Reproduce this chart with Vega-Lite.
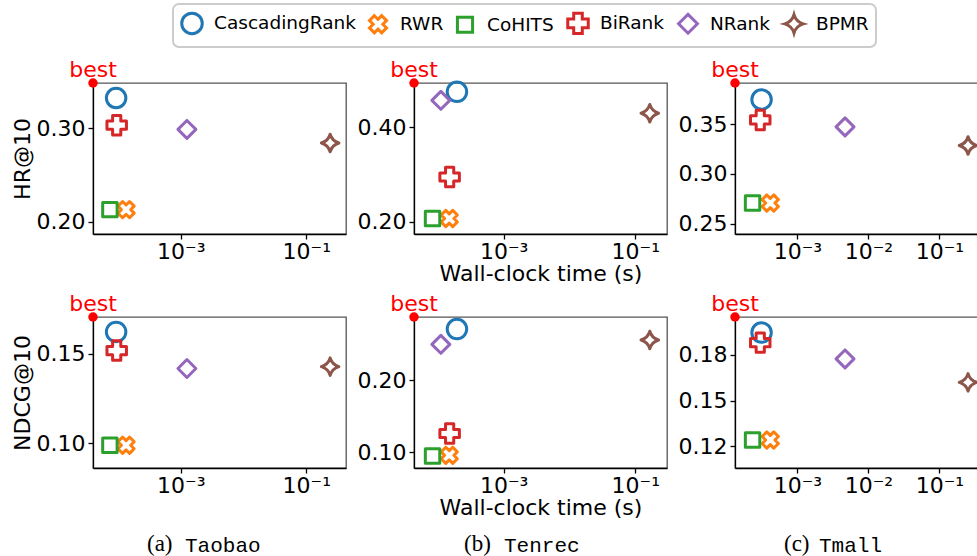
{
  "$schema": "https://vega.github.io/schema/vega-lite/v6.json",
  "padding": {"left": 10, "top": 3, "right": 0, "bottom": 0},
  "columns": 3,
  "bounds": "flush",
  "spacing": {"row": 83, "column": 68},
  "resolve": {"scale": {"x": "independent", "y": "independent", "color": "shared", "shape": "shared"}, "axis": {"x": "independent", "y": "independent"}, "legend": {"color": "shared", "shape": "shared"}},
  "datasets": {
    "scores": [
      {"dataset": "Taobao", "metric": "HR@10", "method": "CascadingRank", "time": 0.000093, "value": 0.332},
      {"dataset": "Taobao", "metric": "HR@10", "method": "RWR", "time": 0.000134, "value": 0.213},
      {"dataset": "Taobao", "metric": "HR@10", "method": "CoHITS", "time": 0.000074, "value": 0.213},
      {"dataset": "Taobao", "metric": "HR@10", "method": "BiRank", "time": 0.000095, "value": 0.303},
      {"dataset": "Taobao", "metric": "HR@10", "method": "NRank", "time": 0.00125, "value": 0.2985},
      {"dataset": "Taobao", "metric": "HR@10", "method": "BPMR", "time": 0.24, "value": 0.284},
      {"dataset": "Taobao", "metric": "NDCG@10", "method": "CascadingRank", "time": 0.000093, "value": 0.1621},
      {"dataset": "Taobao", "metric": "NDCG@10", "method": "RWR", "time": 0.000134, "value": 0.0989},
      {"dataset": "Taobao", "metric": "NDCG@10", "method": "CoHITS", "time": 0.000074, "value": 0.0989},
      {"dataset": "Taobao", "metric": "NDCG@10", "method": "BiRank", "time": 0.000095, "value": 0.1517},
      {"dataset": "Taobao", "metric": "NDCG@10", "method": "NRank", "time": 0.00125, "value": 0.1417},
      {"dataset": "Taobao", "metric": "NDCG@10", "method": "BPMR", "time": 0.24, "value": 0.1427},
      {"dataset": "Tenrec", "metric": "HR@10", "method": "CascadingRank", "time": 0.000195, "value": 0.475},
      {"dataset": "Tenrec", "metric": "HR@10", "method": "RWR", "time": 0.000149, "value": 0.2074},
      {"dataset": "Tenrec", "metric": "HR@10", "method": "CoHITS", "time": 0.000083, "value": 0.2074},
      {"dataset": "Tenrec", "metric": "HR@10", "method": "BiRank", "time": 0.000151, "value": 0.295},
      {"dataset": "Tenrec", "metric": "HR@10", "method": "NRank", "time": 0.000111, "value": 0.457},
      {"dataset": "Tenrec", "metric": "HR@10", "method": "BPMR", "time": 0.166, "value": 0.4298},
      {"dataset": "Tenrec", "metric": "NDCG@10", "method": "CascadingRank", "time": 0.000195, "value": 0.2708},
      {"dataset": "Tenrec", "metric": "NDCG@10", "method": "RWR", "time": 0.000149, "value": 0.0958},
      {"dataset": "Tenrec", "metric": "NDCG@10", "method": "CoHITS", "time": 0.000083, "value": 0.0949},
      {"dataset": "Tenrec", "metric": "NDCG@10", "method": "BiRank", "time": 0.000151, "value": 0.126},
      {"dataset": "Tenrec", "metric": "NDCG@10", "method": "NRank", "time": 0.000111, "value": 0.2496},
      {"dataset": "Tenrec", "metric": "NDCG@10", "method": "BPMR", "time": 0.166, "value": 0.2556},
      {"dataset": "Tmall", "metric": "HR@10", "method": "CascadingRank", "time": 0.000312, "value": 0.3748},
      {"dataset": "Tmall", "metric": "HR@10", "method": "RWR", "time": 0.000414, "value": 0.2708},
      {"dataset": "Tmall", "metric": "HR@10", "method": "CoHITS", "time": 0.000233, "value": 0.2708},
      {"dataset": "Tmall", "metric": "HR@10", "method": "BiRank", "time": 0.000299, "value": 0.3543},
      {"dataset": "Tmall", "metric": "HR@10", "method": "NRank", "time": 0.00468, "value": 0.3473},
      {"dataset": "Tmall", "metric": "HR@10", "method": "BPMR", "time": 0.253, "value": 0.3286},
      {"dataset": "Tmall", "metric": "NDCG@10", "method": "CascadingRank", "time": 0.000312, "value": 0.1872},
      {"dataset": "Tmall", "metric": "NDCG@10", "method": "RWR", "time": 0.000414, "value": 0.1285},
      {"dataset": "Tmall", "metric": "NDCG@10", "method": "CoHITS", "time": 0.000233, "value": 0.1285},
      {"dataset": "Tmall", "metric": "NDCG@10", "method": "BiRank", "time": 0.000299, "value": 0.1817},
      {"dataset": "Tmall", "metric": "NDCG@10", "method": "NRank", "time": 0.00468, "value": 0.1728},
      {"dataset": "Tmall", "metric": "NDCG@10", "method": "BPMR", "time": 0.253, "value": 0.160}
    ],
    "best": [
      {"dataset": "Taobao", "metric": "HR@10", "time": 0.0000398, "value": 0.348},
      {"dataset": "Taobao", "metric": "NDCG@10", "time": 0.0000398, "value": 0.1704},
      {"dataset": "Tenrec", "metric": "HR@10", "time": 0.0000434, "value": 0.4936},
      {"dataset": "Tenrec", "metric": "NDCG@10", "time": 0.0000434, "value": 0.2875},
      {"dataset": "Tmall", "metric": "HR@10", "time": 0.0001318, "value": 0.3914},
      {"dataset": "Tmall", "metric": "NDCG@10", "time": 0.0001318, "value": 0.1957}
    ]
  },
  "concat": [
    {
      "width": 253, "height": 151,
      "layer": [
        {"data": {"name": "scores"}, "transform": [{"filter": "datum.dataset == 'Taobao' && datum.metric == 'HR@10'"}],
         "mark": {"type": "point", "filled": false, "strokeWidth": 3, "size": 380, "opacity": 1, "strokeJoin": "round"},
         "encoding": {
           "x": {"field": "time", "type": "quantitative", "scale": {"type": "log", "domain": [0.0000398, 0.4295], "nice": false}, "axis": {"values": [0.001, 0.1], "labelExpr": "datum.value < 0.0055 ? '10⁻³' : datum.value < 0.055 ? '10⁻²' : '10⁻¹'", "title": null, "labelPadding": 2, "minExtent": 29, "maxExtent": 29, "titlePadding": 0}},
           "y": {"field": "value", "type": "quantitative", "scale": {"domain": [0.187, 0.348], "zero": false, "nice": false}, "axis": {"values": [0.2, 0.3], "format": ".2f", "title": "HR@10", "labelPadding": 3, "minExtent": 58, "maxExtent": 58, "titlePadding": 1}},
           "color": {"field": "method", "type": "nominal", "scale": {"domain": ["CascadingRank", "RWR", "CoHITS", "BiRank", "NRank", "BPMR"], "range": ["#1f77b4", "#ff7f0e", "#2ca02c", "#d62728", "#9467bd", "#8c564b"]}, "legend": {"title": null, "orient": "none", "legendX": 80, "legendY": -79, "direction": "horizontal", "columns": 6}},
           "shape": {"field": "method", "type": "nominal", "scale": {"domain": ["CascadingRank", "RWR", "CoHITS", "BiRank", "NRank", "BPMR"], "range": ["circle", "M-0.356,-0.832L0,-0.475L0.356,-0.832L0.832,-0.356L0.475,0L0.832,0.356L0.356,0.832L0,0.475L-0.356,0.832L-0.832,0.356L-0.475,0L-0.832,-0.356Z", "M-0.74,-0.74L0.74,-0.74L0.74,0.74L-0.74,0.74Z", "M-1,-0.42L-0.42,-0.42L-0.42,-1L0.42,-1L0.42,-0.42L1,-0.42L1,0.42L0.42,0.42L0.42,1L-0.42,1L-0.42,0.42L-1,0.42Z", "M0,-0.92L0.92,0L0,0.92L-0.92,0Z", "M0,-0.9Q0.2,-0.2,0.9,0Q0.2,0.2,0,0.9Q-0.2,0.2,-0.9,0Q-0.2,-0.2,0,-0.9Z"]}, "legend": {"title": null, "orient": "none", "legendX": 80, "legendY": -79, "direction": "horizontal", "columns": 6}}
         }},
        {"data": {"name": "best"}, "transform": [{"filter": "datum.dataset == 'Taobao' && datum.metric == 'HR@10'"}],
         "mark": {"type": "point", "filled": true, "color": "red", "size": 90, "opacity": 1},
         "encoding": {"x": {"field": "time", "type": "quantitative"}, "y": {"field": "value", "type": "quantitative"}}},
        {"data": {"name": "best"}, "transform": [{"filter": "datum.dataset == 'Taobao' && datum.metric == 'HR@10'"}],
         "mark": {"type": "text", "text": "best", "color": "red", "fontSize": 22, "font": "DejaVu Sans", "baseline": "alphabetic", "align": "center", "dy": -6},
         "encoding": {"x": {"field": "time", "type": "quantitative"}, "y": {"field": "value", "type": "quantitative"}}}
      ]
    },
    {
      "width": 253, "height": 151,
      "layer": [
        {"data": {"name": "scores"}, "transform": [{"filter": "datum.dataset == 'Tenrec' && datum.metric == 'HR@10'"}],
         "mark": {"type": "point", "filled": false, "strokeWidth": 3, "size": 380, "opacity": 1, "strokeJoin": "round"},
         "encoding": {
           "x": {"field": "time", "type": "quantitative", "scale": {"type": "log", "domain": [0.0000434, 0.303], "nice": false}, "axis": {"values": [0.001, 0.1], "labelExpr": "datum.value < 0.0055 ? '10⁻³' : datum.value < 0.055 ? '10⁻²' : '10⁻¹'", "title": "Wall-clock time (s)", "labelPadding": 2, "minExtent": 29, "maxExtent": 29, "titlePadding": 0}},
           "y": {"field": "value", "type": "quantitative", "scale": {"domain": [0.1746, 0.4936], "zero": false, "nice": false}, "axis": {"values": [0.2, 0.4], "format": ".2f", "title": null, "labelPadding": 3, "minExtent": 58, "maxExtent": 58}},
           "color": {"field": "method", "type": "nominal", "scale": {"domain": ["CascadingRank", "RWR", "CoHITS", "BiRank", "NRank", "BPMR"], "range": ["#1f77b4", "#ff7f0e", "#2ca02c", "#d62728", "#9467bd", "#8c564b"]}, "legend": {"title": null, "orient": "none", "legendX": 80, "legendY": -79, "direction": "horizontal", "columns": 6}},
           "shape": {"field": "method", "type": "nominal", "scale": {"domain": ["CascadingRank", "RWR", "CoHITS", "BiRank", "NRank", "BPMR"], "range": ["circle", "M-0.356,-0.832L0,-0.475L0.356,-0.832L0.832,-0.356L0.475,0L0.832,0.356L0.356,0.832L0,0.475L-0.356,0.832L-0.832,0.356L-0.475,0L-0.832,-0.356Z", "M-0.74,-0.74L0.74,-0.74L0.74,0.74L-0.74,0.74Z", "M-1,-0.42L-0.42,-0.42L-0.42,-1L0.42,-1L0.42,-0.42L1,-0.42L1,0.42L0.42,0.42L0.42,1L-0.42,1L-0.42,0.42L-1,0.42Z", "M0,-0.92L0.92,0L0,0.92L-0.92,0Z", "M0,-0.9Q0.2,-0.2,0.9,0Q0.2,0.2,0,0.9Q-0.2,0.2,-0.9,0Q-0.2,-0.2,0,-0.9Z"]}, "legend": {"title": null, "orient": "none", "legendX": 80, "legendY": -79, "direction": "horizontal", "columns": 6}}
         }},
        {"data": {"name": "best"}, "transform": [{"filter": "datum.dataset == 'Tenrec' && datum.metric == 'HR@10'"}],
         "mark": {"type": "point", "filled": true, "color": "red", "size": 90, "opacity": 1},
         "encoding": {"x": {"field": "time", "type": "quantitative"}, "y": {"field": "value", "type": "quantitative"}}},
        {"data": {"name": "best"}, "transform": [{"filter": "datum.dataset == 'Tenrec' && datum.metric == 'HR@10'"}],
         "mark": {"type": "text", "text": "best", "color": "red", "fontSize": 22, "font": "DejaVu Sans", "baseline": "alphabetic", "align": "center", "dy": -6},
         "encoding": {"x": {"field": "time", "type": "quantitative"}, "y": {"field": "value", "type": "quantitative"}}}
      ]
    },
    {
      "width": 244, "height": 151,
      "layer": [
        {"data": {"name": "scores"}, "transform": [{"filter": "datum.dataset == 'Tmall' && datum.metric == 'HR@10'"}],
         "mark": {"type": "point", "filled": false, "strokeWidth": 3, "size": 380, "opacity": 1, "strokeJoin": "round"},
         "encoding": {
           "x": {"field": "time", "type": "quantitative", "scale": {"type": "log", "domain": [0.0001318, 0.361], "nice": false}, "axis": {"values": [0.001, 0.01, 0.1], "labelExpr": "datum.value < 0.0055 ? '10⁻³' : datum.value < 0.055 ? '10⁻²' : '10⁻¹'", "title": null, "labelPadding": 2, "minExtent": 29, "maxExtent": 29, "titlePadding": 0}},
           "y": {"field": "value", "type": "quantitative", "scale": {"domain": [0.2397, 0.3914], "zero": false, "nice": false}, "axis": {"values": [0.25, 0.3, 0.35], "format": ".2f", "title": null, "labelPadding": 3, "minExtent": 58, "maxExtent": 58}},
           "color": {"field": "method", "type": "nominal", "scale": {"domain": ["CascadingRank", "RWR", "CoHITS", "BiRank", "NRank", "BPMR"], "range": ["#1f77b4", "#ff7f0e", "#2ca02c", "#d62728", "#9467bd", "#8c564b"]}, "legend": {"title": null, "orient": "none", "legendX": 80, "legendY": -79, "direction": "horizontal", "columns": 6}},
           "shape": {"field": "method", "type": "nominal", "scale": {"domain": ["CascadingRank", "RWR", "CoHITS", "BiRank", "NRank", "BPMR"], "range": ["circle", "M-0.356,-0.832L0,-0.475L0.356,-0.832L0.832,-0.356L0.475,0L0.832,0.356L0.356,0.832L0,0.475L-0.356,0.832L-0.832,0.356L-0.475,0L-0.832,-0.356Z", "M-0.74,-0.74L0.74,-0.74L0.74,0.74L-0.74,0.74Z", "M-1,-0.42L-0.42,-0.42L-0.42,-1L0.42,-1L0.42,-0.42L1,-0.42L1,0.42L0.42,0.42L0.42,1L-0.42,1L-0.42,0.42L-1,0.42Z", "M0,-0.92L0.92,0L0,0.92L-0.92,0Z", "M0,-0.9Q0.2,-0.2,0.9,0Q0.2,0.2,0,0.9Q-0.2,0.2,-0.9,0Q-0.2,-0.2,0,-0.9Z"]}, "legend": {"title": null, "orient": "none", "legendX": 80, "legendY": -79, "direction": "horizontal", "columns": 6}}
         }},
        {"data": {"name": "best"}, "transform": [{"filter": "datum.dataset == 'Tmall' && datum.metric == 'HR@10'"}],
         "mark": {"type": "point", "filled": true, "color": "red", "size": 90, "opacity": 1},
         "encoding": {"x": {"field": "time", "type": "quantitative"}, "y": {"field": "value", "type": "quantitative"}}},
        {"data": {"name": "best"}, "transform": [{"filter": "datum.dataset == 'Tmall' && datum.metric == 'HR@10'"}],
         "mark": {"type": "text", "text": "best", "color": "red", "fontSize": 22, "font": "DejaVu Sans", "baseline": "alphabetic", "align": "center", "dy": -6},
         "encoding": {"x": {"field": "time", "type": "quantitative"}, "y": {"field": "value", "type": "quantitative"}}}
      ]
    },
    {
      "width": 253, "height": 151,
      "title": {"text": "(a)", "subtitle": "Taobao", "orient": "bottom", "anchor": "start", "frame": "group", "dx": 54, "offset": 15, "encode": {"subtitle": {"update": {"dx": {"value": 92}}}}},
      "layer": [
        {"data": {"name": "scores"}, "transform": [{"filter": "datum.dataset == 'Taobao' && datum.metric == 'NDCG@10'"}],
         "mark": {"type": "point", "filled": false, "strokeWidth": 3, "size": 380, "opacity": 1, "strokeJoin": "round"},
         "encoding": {
           "x": {"field": "time", "type": "quantitative", "scale": {"type": "log", "domain": [0.0000398, 0.4295], "nice": false}, "axis": {"values": [0.001, 0.1], "labelExpr": "datum.value < 0.0055 ? '10⁻³' : datum.value < 0.055 ? '10⁻²' : '10⁻¹'", "title": "\u00a0", "labelPadding": 2, "minExtent": 29, "maxExtent": 29, "titlePadding": 0}},
           "y": {"field": "value", "type": "quantitative", "scale": {"domain": [0.0862, 0.1704], "zero": false, "nice": false}, "axis": {"values": [0.1, 0.15], "format": ".2f", "title": "NDCG@10", "labelPadding": 3, "minExtent": 58, "maxExtent": 58, "titlePadding": 1}},
           "color": {"field": "method", "type": "nominal", "scale": {"domain": ["CascadingRank", "RWR", "CoHITS", "BiRank", "NRank", "BPMR"], "range": ["#1f77b4", "#ff7f0e", "#2ca02c", "#d62728", "#9467bd", "#8c564b"]}, "legend": {"title": null, "orient": "none", "legendX": 80, "legendY": -79, "direction": "horizontal", "columns": 6}},
           "shape": {"field": "method", "type": "nominal", "scale": {"domain": ["CascadingRank", "RWR", "CoHITS", "BiRank", "NRank", "BPMR"], "range": ["circle", "M-0.356,-0.832L0,-0.475L0.356,-0.832L0.832,-0.356L0.475,0L0.832,0.356L0.356,0.832L0,0.475L-0.356,0.832L-0.832,0.356L-0.475,0L-0.832,-0.356Z", "M-0.74,-0.74L0.74,-0.74L0.74,0.74L-0.74,0.74Z", "M-1,-0.42L-0.42,-0.42L-0.42,-1L0.42,-1L0.42,-0.42L1,-0.42L1,0.42L0.42,0.42L0.42,1L-0.42,1L-0.42,0.42L-1,0.42Z", "M0,-0.92L0.92,0L0,0.92L-0.92,0Z", "M0,-0.9Q0.2,-0.2,0.9,0Q0.2,0.2,0,0.9Q-0.2,0.2,-0.9,0Q-0.2,-0.2,0,-0.9Z"]}, "legend": {"title": null, "orient": "none", "legendX": 80, "legendY": -79, "direction": "horizontal", "columns": 6}}
         }},
        {"data": {"name": "best"}, "transform": [{"filter": "datum.dataset == 'Taobao' && datum.metric == 'NDCG@10'"}],
         "mark": {"type": "point", "filled": true, "color": "red", "size": 90, "opacity": 1},
         "encoding": {"x": {"field": "time", "type": "quantitative"}, "y": {"field": "value", "type": "quantitative"}}},
        {"data": {"name": "best"}, "transform": [{"filter": "datum.dataset == 'Taobao' && datum.metric == 'NDCG@10'"}],
         "mark": {"type": "text", "text": "best", "color": "red", "fontSize": 22, "font": "DejaVu Sans", "baseline": "alphabetic", "align": "center", "dy": -6},
         "encoding": {"x": {"field": "time", "type": "quantitative"}, "y": {"field": "value", "type": "quantitative"}}}
      ]
    },
    {
      "width": 253, "height": 151,
      "title": {"text": "(b)", "subtitle": "Tenrec", "orient": "bottom", "anchor": "start", "frame": "group", "dx": 50, "offset": 15, "encode": {"subtitle": {"update": {"dx": {"value": 90}}}}},
      "layer": [
        {"data": {"name": "scores"}, "transform": [{"filter": "datum.dataset == 'Tenrec' && datum.metric == 'NDCG@10'"}],
         "mark": {"type": "point", "filled": false, "strokeWidth": 3, "size": 380, "opacity": 1, "strokeJoin": "round"},
         "encoding": {
           "x": {"field": "time", "type": "quantitative", "scale": {"type": "log", "domain": [0.0000434, 0.303], "nice": false}, "axis": {"values": [0.001, 0.1], "labelExpr": "datum.value < 0.0055 ? '10⁻³' : datum.value < 0.055 ? '10⁻²' : '10⁻¹'", "title": "Wall-clock time (s)", "labelPadding": 2, "minExtent": 29, "maxExtent": 29, "titlePadding": 0}},
           "y": {"field": "value", "type": "quantitative", "scale": {"domain": [0.0782, 0.2875], "zero": false, "nice": false}, "axis": {"values": [0.1, 0.2], "format": ".2f", "title": null, "labelPadding": 3, "minExtent": 58, "maxExtent": 58}},
           "color": {"field": "method", "type": "nominal", "scale": {"domain": ["CascadingRank", "RWR", "CoHITS", "BiRank", "NRank", "BPMR"], "range": ["#1f77b4", "#ff7f0e", "#2ca02c", "#d62728", "#9467bd", "#8c564b"]}, "legend": {"title": null, "orient": "none", "legendX": 80, "legendY": -79, "direction": "horizontal", "columns": 6}},
           "shape": {"field": "method", "type": "nominal", "scale": {"domain": ["CascadingRank", "RWR", "CoHITS", "BiRank", "NRank", "BPMR"], "range": ["circle", "M-0.356,-0.832L0,-0.475L0.356,-0.832L0.832,-0.356L0.475,0L0.832,0.356L0.356,0.832L0,0.475L-0.356,0.832L-0.832,0.356L-0.475,0L-0.832,-0.356Z", "M-0.74,-0.74L0.74,-0.74L0.74,0.74L-0.74,0.74Z", "M-1,-0.42L-0.42,-0.42L-0.42,-1L0.42,-1L0.42,-0.42L1,-0.42L1,0.42L0.42,0.42L0.42,1L-0.42,1L-0.42,0.42L-1,0.42Z", "M0,-0.92L0.92,0L0,0.92L-0.92,0Z", "M0,-0.9Q0.2,-0.2,0.9,0Q0.2,0.2,0,0.9Q-0.2,0.2,-0.9,0Q-0.2,-0.2,0,-0.9Z"]}, "legend": {"title": null, "orient": "none", "legendX": 80, "legendY": -79, "direction": "horizontal", "columns": 6}}
         }},
        {"data": {"name": "best"}, "transform": [{"filter": "datum.dataset == 'Tenrec' && datum.metric == 'NDCG@10'"}],
         "mark": {"type": "point", "filled": true, "color": "red", "size": 90, "opacity": 1},
         "encoding": {"x": {"field": "time", "type": "quantitative"}, "y": {"field": "value", "type": "quantitative"}}},
        {"data": {"name": "best"}, "transform": [{"filter": "datum.dataset == 'Tenrec' && datum.metric == 'NDCG@10'"}],
         "mark": {"type": "text", "text": "best", "color": "red", "fontSize": 22, "font": "DejaVu Sans", "baseline": "alphabetic", "align": "center", "dy": -6},
         "encoding": {"x": {"field": "time", "type": "quantitative"}, "y": {"field": "value", "type": "quantitative"}}}
      ]
    },
    {
      "width": 244, "height": 151,
      "title": {"text": "(c)", "subtitle": "Tmall", "orient": "bottom", "anchor": "start", "frame": "group", "dx": 49, "offset": 15, "encode": {"subtitle": {"update": {"dx": {"value": 84}}}}},
      "layer": [
        {"data": {"name": "scores"}, "transform": [{"filter": "datum.dataset == 'Tmall' && datum.metric == 'NDCG@10'"}],
         "mark": {"type": "point", "filled": false, "strokeWidth": 3, "size": 380, "opacity": 1, "strokeJoin": "round"},
         "encoding": {
           "x": {"field": "time", "type": "quantitative", "scale": {"type": "log", "domain": [0.0001318, 0.361], "nice": false}, "axis": {"values": [0.001, 0.01, 0.1], "labelExpr": "datum.value < 0.0055 ? '10⁻³' : datum.value < 0.055 ? '10⁻²' : '10⁻¹'", "title": "\u00a0", "labelPadding": 2, "minExtent": 29, "maxExtent": 29, "titlePadding": 0}},
           "y": {"field": "value", "type": "quantitative", "scale": {"domain": [0.1132, 0.1957], "zero": false, "nice": false}, "axis": {"values": [0.125, 0.15, 0.175], "labelExpr": "datum.value < 0.13 ? '0.12' : datum.value < 0.16 ? '0.15' : '0.18'", "title": null, "labelPadding": 3, "minExtent": 58, "maxExtent": 58}},
           "color": {"field": "method", "type": "nominal", "scale": {"domain": ["CascadingRank", "RWR", "CoHITS", "BiRank", "NRank", "BPMR"], "range": ["#1f77b4", "#ff7f0e", "#2ca02c", "#d62728", "#9467bd", "#8c564b"]}, "legend": {"title": null, "orient": "none", "legendX": 80, "legendY": -79, "direction": "horizontal", "columns": 6}},
           "shape": {"field": "method", "type": "nominal", "scale": {"domain": ["CascadingRank", "RWR", "CoHITS", "BiRank", "NRank", "BPMR"], "range": ["circle", "M-0.356,-0.832L0,-0.475L0.356,-0.832L0.832,-0.356L0.475,0L0.832,0.356L0.356,0.832L0,0.475L-0.356,0.832L-0.832,0.356L-0.475,0L-0.832,-0.356Z", "M-0.74,-0.74L0.74,-0.74L0.74,0.74L-0.74,0.74Z", "M-1,-0.42L-0.42,-0.42L-0.42,-1L0.42,-1L0.42,-0.42L1,-0.42L1,0.42L0.42,0.42L0.42,1L-0.42,1L-0.42,0.42L-1,0.42Z", "M0,-0.92L0.92,0L0,0.92L-0.92,0Z", "M0,-0.9Q0.2,-0.2,0.9,0Q0.2,0.2,0,0.9Q-0.2,0.2,-0.9,0Q-0.2,-0.2,0,-0.9Z"]}, "legend": {"title": null, "orient": "none", "legendX": 80, "legendY": -79, "direction": "horizontal", "columns": 6}}
         }},
        {"data": {"name": "best"}, "transform": [{"filter": "datum.dataset == 'Tmall' && datum.metric == 'NDCG@10'"}],
         "mark": {"type": "point", "filled": true, "color": "red", "size": 90, "opacity": 1},
         "encoding": {"x": {"field": "time", "type": "quantitative"}, "y": {"field": "value", "type": "quantitative"}}},
        {"data": {"name": "best"}, "transform": [{"filter": "datum.dataset == 'Tmall' && datum.metric == 'NDCG@10'"}],
         "mark": {"type": "text", "text": "best", "color": "red", "fontSize": 22, "font": "DejaVu Sans", "baseline": "alphabetic", "align": "center", "dy": -6},
         "encoding": {"x": {"field": "time", "type": "quantitative"}, "y": {"field": "value", "type": "quantitative"}}}
      ]
    }
  ],
  "config": {
    "font": "DejaVu Sans",
    "view": {"stroke": "#555555", "strokeWidth": 1.3},
    "axis": {"labelFont": "DejaVu Sans", "labelFontSize": 22, "labelColor": "black", "titleFont": "DejaVu Sans", "titleFontSize": 22, "titleFontWeight": "normal", "titleColor": "black", "domainColor": "black", "domainWidth": 1.3, "tickColor": "black", "tickWidth": 1.3, "tickSize": 5, "grid": false, "labelFlush": false, "labelOverlap": false},
    "legend": {"labelFont": "DejaVu Sans", "labelFontSize": 18.5, "labelColor": "black", "symbolSize": 420, "symbolStrokeWidth": 3, "strokeColor": "#cccccc", "strokeWidth": 2, "fillColor": "white", "cornerRadius": 6, "padding": 7, "labelOffset": 10, "columnPadding": 7},
    "title": {"font": "Liberation Serif", "fontSize": 23, "fontWeight": "normal", "color": "black", "subtitleFont": "Liberation Mono", "subtitleFontSize": 21, "subtitleColor": "black", "subtitlePadding": -21.4}
  }
}
